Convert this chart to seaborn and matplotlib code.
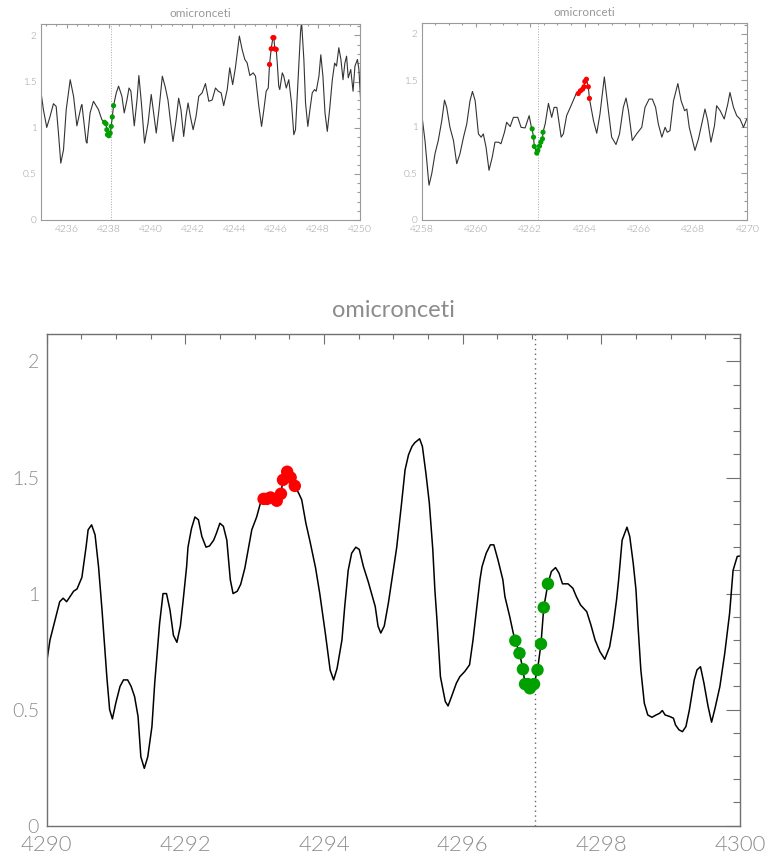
import matplotlib
matplotlib.use("Agg")
import matplotlib.pyplot as plt
import seaborn as sns
import pandas as pd
from matplotlib import font_manager
from matplotlib.ticker import MultipleLocator

star = "omicronceti"

# ---- window 1: 4234.75 - 4250 A ----
w1_wave = [4234.77, 4234.88, 4235.04, 4235.20, 4235.36, 4235.49, 4235.60, 4235.71, 4235.84, 4235.97,
           4236.16, 4236.32, 4236.48, 4236.68, 4236.72, 4236.92, 4236.96, 4237.11, 4237.27, 4237.51,
           4237.67, 4237.80, 4237.87, 4237.91, 4237.94, 4238.01, 4238.07, 4238.12, 4238.17, 4238.23,
           4238.36, 4238.47, 4238.63, 4238.74, 4238.87, 4238.97, 4239.06, 4239.22, 4239.35, 4239.44,
           4239.56, 4239.71, 4239.88, 4240.03, 4240.27, 4240.40, 4240.56, 4240.70, 4240.83, 4240.94,
           4241.07, 4241.22, 4241.34, 4241.45, 4241.58, 4241.69, 4241.79, 4241.90, 4242.03, 4242.17,
           4242.30, 4242.46, 4242.62, 4242.78, 4242.94, 4243.10, 4243.23, 4243.37, 4243.49, 4243.66,
           4243.78, 4243.92, 4244.05, 4244.24, 4244.37, 4244.50, 4244.61, 4244.74, 4244.90, 4245.01,
           4245.17, 4245.30, 4245.41, 4245.52, 4245.62, 4245.68, 4245.76, 4245.84, 4245.89, 4245.93,
           4246.00, 4246.05, 4246.12, 4246.17, 4246.29, 4246.36, 4246.48, 4246.60, 4246.73, 4246.84,
           4246.92, 4247.05, 4247.16, 4247.21, 4247.32, 4247.40, 4247.51, 4247.61, 4247.72, 4247.83,
           4247.91, 4248.04, 4248.13, 4248.23, 4248.33, 4248.44, 4248.55, 4248.68, 4248.79, 4248.88,
           4248.99, 4249.09, 4249.19, 4249.28, 4249.36, 4249.44, 4249.56, 4249.67, 4249.76, 4249.88,
           4249.95, 4250.03]
w1_flux = [1.377, 1.196, 1.003, 1.123, 1.260, 1.230, 0.940, 0.616, 0.760, 1.196,
           1.520, 1.340, 1.020, 1.230, 1.250, 0.850, 0.833, 1.160, 1.286, 1.196,
           1.087, 1.058, 1.043, 0.978, 0.924, 0.913, 0.942, 1.014, 1.116, 1.239,
           1.377, 1.450, 1.340, 1.160, 1.300, 1.430, 1.395, 1.020, 1.300, 1.565,
           1.268, 0.833, 1.050, 1.360, 0.942, 1.196, 1.558, 1.440, 1.300, 1.087,
           0.850, 1.087, 1.320, 1.196, 0.905, 1.123, 1.268, 1.123, 0.978, 1.123,
           1.340, 1.377, 1.478, 1.286, 1.300, 1.430, 1.395, 1.377, 1.239, 1.413,
           1.649, 1.467, 1.649, 1.993, 1.848, 1.739, 1.703, 1.565, 1.594, 1.558,
           1.230, 1.014, 1.196, 1.395, 1.430, 1.685, 1.855, 1.975, 1.975, 1.855,
           1.848, 1.700, 1.450, 1.413, 1.594, 1.558, 1.430, 1.520, 1.268, 0.924,
           0.978, 1.558, 2.030, 2.150, 1.739, 1.268, 1.014, 1.196, 1.377, 1.413,
           1.395, 1.558, 1.790, 1.558, 1.160, 0.960, 1.196, 1.520, 1.700, 1.667,
           1.866, 1.739, 1.520, 1.700, 1.775, 1.540, 1.630, 1.395, 1.667, 1.739,
           1.630, 1.300]
w1_blue_wave = [4237.80, 4237.87, 4237.91, 4237.94, 4238.01, 4238.07, 4238.12, 4238.17, 4238.23]
w1_blue_flux = [1.058, 1.043, 0.978, 0.924, 0.913, 0.942, 1.014, 1.116, 1.239]
w1_red_wave = [4245.68, 4245.76, 4245.84, 4245.89, 4245.93, 4246.00]
w1_red_flux = [1.685, 1.855, 1.975, 1.975, 1.855, 1.848]
w1_line = 4238.12

# ---- window 2: 4258 - 4270 A ----
w2_wave = [4258.00, 4258.12, 4258.25, 4258.27, 4258.37, 4258.49, 4258.61, 4258.74, 4258.84, 4258.92,
           4259.04, 4259.17, 4259.29, 4259.41, 4259.54, 4259.66, 4259.78, 4259.87, 4259.97, 4260.09,
           4260.19, 4260.27, 4260.37, 4260.48, 4260.60, 4260.70, 4260.83, 4260.92, 4261.05, 4261.13,
           4261.26, 4261.38, 4261.54, 4261.66, 4261.81, 4261.96, 4262.03, 4262.07, 4262.12, 4262.15,
           4262.24, 4262.28, 4262.34, 4262.39, 4262.45, 4262.47, 4262.55, 4262.67, 4262.79, 4262.88,
           4262.98, 4263.14, 4263.22, 4263.34, 4263.53, 4263.71, 4263.77, 4263.85, 4263.93, 4263.98,
           4264.01, 4264.07, 4264.14, 4264.18, 4264.33, 4264.45, 4264.57, 4264.73, 4264.88, 4265.00,
           4265.16, 4265.29, 4265.43, 4265.53, 4265.62, 4265.76, 4265.92, 4266.11, 4266.23, 4266.38,
           4266.50, 4266.62, 4266.72, 4266.85, 4266.97, 4267.05, 4267.15, 4267.28, 4267.44, 4267.56,
           4267.69, 4267.77, 4267.86, 4267.98, 4268.07, 4268.20, 4268.32, 4268.44, 4268.54, 4268.66,
           4268.79, 4268.87, 4269.00, 4269.15, 4269.28, 4269.36, 4269.49, 4269.61, 4269.73, 4269.86,
           4269.98]
w2_flux = [1.139, 0.854, 0.427, 0.374, 0.498, 0.712, 0.854, 1.068, 1.288, 1.210,
           0.996, 0.854, 0.605, 0.712, 0.890, 1.032, 1.281, 1.381, 1.281, 0.925,
           0.890, 0.925, 0.783, 0.534, 0.676, 0.836, 0.836, 0.819, 0.943, 1.050,
           1.004, 1.103, 1.103, 0.996, 0.989, 1.121, 1.014, 0.979, 0.890, 0.790,
           0.719, 0.747, 0.794, 0.836, 0.872, 0.943, 1.032, 1.253, 1.103, 1.210,
           1.210, 0.890, 0.925, 1.121, 1.246, 1.370, 1.359, 1.388, 1.406, 1.431,
           1.488, 1.512, 1.431, 1.306, 1.068, 0.932, 1.139, 1.537, 1.174, 0.890,
           0.811, 0.925, 1.210, 1.310, 1.174, 0.854, 0.925, 0.996, 1.210, 1.299,
           1.299, 1.210, 1.032, 0.890, 0.996, 0.943, 0.960, 1.281, 1.466, 1.281,
           1.174, 1.192, 0.996, 0.854, 0.747, 0.872, 1.032, 1.192, 1.068, 0.836,
           1.014, 1.228, 1.174, 1.085, 1.246, 1.370, 1.210, 1.121, 1.085, 0.996,
           1.085]
w2_blue_wave = [4262.07, 4262.12, 4262.15, 4262.24, 4262.28, 4262.34, 4262.39, 4262.45, 4262.47]
w2_blue_flux = [0.979, 0.890, 0.790, 0.719, 0.747, 0.794, 0.836, 0.872, 0.943]
w2_red_wave = [4263.77, 4263.85, 4263.93, 4263.98, 4264.01, 4264.07, 4264.14, 4264.18]
w2_red_flux = [1.359, 1.388, 1.406, 1.431, 1.488, 1.512, 1.431, 1.306]
w2_line = 4262.28

# ---- window 3: 4290 - 4300 A ----
w3_wave = [4290.00, 4290.05, 4290.19, 4290.24, 4290.29, 4290.39, 4290.44, 4290.51, 4290.57, 4290.60,
           4290.65, 4290.70, 4290.75, 4290.80, 4290.87, 4290.91, 4290.95, 4291.00, 4291.06, 4291.11,
           4291.17, 4291.22, 4291.27, 4291.32, 4291.36, 4291.41, 4291.46, 4291.52, 4291.56, 4291.63,
           4291.68, 4291.73, 4291.78, 4291.83, 4291.88, 4291.93, 4291.97, 4292.02, 4292.04, 4292.09,
           4292.14, 4292.19, 4292.24, 4292.30, 4292.35, 4292.41, 4292.45, 4292.50, 4292.55, 4292.60,
           4292.65, 4292.69, 4292.75, 4292.80, 4292.86, 4292.96, 4293.03, 4293.10, 4293.13, 4293.18,
           4293.23, 4293.32, 4293.38, 4293.41, 4293.47, 4293.52, 4293.58, 4293.64, 4293.68, 4293.74,
           4293.80, 4293.88, 4293.94, 4294.02, 4294.09, 4294.14, 4294.19, 4294.26, 4294.30, 4294.35,
           4294.40, 4294.46, 4294.51, 4294.57, 4294.64, 4294.74, 4294.78, 4294.82, 4294.87, 4294.93,
           4294.98, 4295.05, 4295.12, 4295.17, 4295.22, 4295.27, 4295.31, 4295.38, 4295.42, 4295.47,
           4295.52, 4295.57, 4295.60, 4295.63, 4295.68, 4295.75, 4295.79, 4295.84, 4295.91, 4295.96,
           4296.03, 4296.10, 4296.15, 4296.20, 4296.25, 4296.28, 4296.34, 4296.40, 4296.45, 4296.51,
           4296.58, 4296.61, 4296.68, 4296.73, 4296.76, 4296.82, 4296.87, 4296.90, 4296.94, 4296.97,
           4297.03, 4297.08, 4297.13, 4297.17, 4297.23, 4297.28, 4297.34, 4297.39, 4297.44, 4297.52,
           4297.59, 4297.64, 4297.70, 4297.79, 4297.85, 4297.91, 4297.98, 4298.05, 4298.12, 4298.17,
           4298.22, 4298.25, 4298.30, 4298.37, 4298.41, 4298.46, 4298.50, 4298.53, 4298.57, 4298.62,
           4298.67, 4298.73, 4298.79, 4298.84, 4298.88, 4298.92, 4298.99, 4299.04, 4299.07, 4299.12,
           4299.17, 4299.22, 4299.27, 4299.34, 4299.38, 4299.43, 4299.48, 4299.54, 4299.59, 4299.64,
           4299.71, 4299.78, 4299.85, 4299.90, 4299.96, 4300.00]
w3_flux = [0.700, 0.800, 0.965, 0.980, 0.965, 1.010, 1.020, 1.070, 1.200, 1.275,
           1.296, 1.253, 1.116, 0.930, 0.640, 0.500, 0.460, 0.530, 0.600, 0.628,
           0.628, 0.600, 0.556, 0.470, 0.297, 0.247, 0.297, 0.427, 0.614, 0.870,
           1.000, 1.000, 0.930, 0.820, 0.790, 0.860, 0.970, 1.116, 1.200, 1.280,
           1.330, 1.318, 1.246, 1.200, 1.205, 1.230, 1.260, 1.303, 1.290, 1.230,
           1.060, 1.000, 1.010, 1.040, 1.110, 1.275, 1.330, 1.407, 1.408, 1.408,
           1.414, 1.400, 1.430, 1.490, 1.525, 1.500, 1.464, 1.430, 1.404, 1.303,
           1.224, 1.110, 1.000, 0.830, 0.670, 0.628, 0.678, 0.800, 0.944, 1.100,
           1.174, 1.200, 1.190, 1.116, 1.050, 0.944, 0.860, 0.830, 0.860, 0.960,
           1.060, 1.200, 1.390, 1.533, 1.598, 1.634, 1.650, 1.667, 1.634, 1.520,
           1.390, 1.190, 1.016, 0.887, 0.642, 0.535, 0.516, 0.556, 0.614, 0.642,
           0.664, 0.693, 0.800, 0.930, 1.060, 1.116, 1.174, 1.210, 1.210, 1.145,
           1.060, 0.987, 0.900, 0.830, 0.797, 0.743, 0.674, 0.610, 0.610, 0.592,
           0.610, 0.671, 0.783, 0.940, 1.042, 1.095, 1.112, 1.088, 1.042, 1.042,
           1.023, 0.987, 0.951, 0.922, 0.865, 0.800, 0.750, 0.717, 0.771, 0.858,
           0.973, 1.060, 1.230, 1.286, 1.246, 1.131, 1.016, 0.858, 0.671, 0.528,
           0.477, 0.467, 0.477, 0.484, 0.496, 0.477, 0.470, 0.463, 0.434, 0.413,
           0.405, 0.427, 0.499, 0.628, 0.671, 0.685, 0.614, 0.513, 0.446, 0.506,
           0.600, 0.743, 0.915, 1.100, 1.160, 1.162]
w3_blue_wave = [4296.76, 4296.82, 4296.87, 4296.90, 4296.94, 4296.97, 4297.03, 4297.08, 4297.13, 4297.17, 4297.23]
w3_blue_flux = [0.797, 0.743, 0.674, 0.610, 0.610, 0.592, 0.610, 0.671, 0.783, 0.940, 1.042]
w3_red_wave = [4293.13, 4293.18, 4293.23, 4293.32, 4293.38, 4293.41, 4293.47, 4293.52, 4293.58]
w3_red_flux = [1.408, 1.408, 1.414, 1.400, 1.430, 1.490, 1.525, 1.500, 1.464]
w3_line = 4297.05

GREEN = "#00a000"
RED = "#ff0000"


def _weight(entry):
    w = entry.weight
    if isinstance(w, str):
        w = font_manager.weight_dict.get(w, 400)
    return int(w)


# prefer a thin face for the axis texts when one is installed
TEXT_FAMILY, TEXT_WEIGHT = "DejaVu Sans", "normal"
for fam in ["Lato", "Roboto", "Open Sans", "Inter", "Noto Sans", "DejaVu Sans"]:
    thin = [e for e in font_manager.fontManager.ttflist
            if e.name == fam and _weight(e) <= 300 and e.style == "normal"]
    if thin:
        TEXT_FAMILY, TEXT_WEIGHT = fam, max(_weight(e) for e in thin)
        break

sns.set_style("white")
plt.rcParams["font.family"] = [TEXT_FAMILY, "DejaVu Sans"]
plt.rcParams["font.weight"] = TEXT_WEIGHT

fig = plt.figure(figsize=(7.69, 8.59), dpi=100)
ax1 = fig.add_axes([0.0529, 0.7439, 0.4152, 0.2278])
ax2 = fig.add_axes([0.5484, 0.7439, 0.4234, 0.2297])
ax3 = fig.add_axes([0.0605, 0.0388, 0.9018, 0.5728])


def draw(ax, wave, flux, bw, bf, rw, rf, vline, xlim, big):
    spec = pd.DataFrame({"wave": wave, "flux": flux})
    lw = 1.1 if big else 0.8
    sns.lineplot(data=spec, x="wave", y="flux", ax=ax, color="black" if big else "#333333",
                 lw=lw, sort=False, estimator=None, zorder=2)
    ax.axvline(vline, color="#666666" if big else "#aaaaaa", ls=(0, (1, 2.5)) if big else ":",
               lw=1.0 if big else 0.7, zorder=1)
    ms = 80 if big else 14
    sns.scatterplot(x=bw, y=bf, ax=ax, color=GREEN, s=ms, edgecolor="none", zorder=3)
    sns.scatterplot(x=rw, y=rf, ax=ax, color=RED, s=ms, edgecolor="none", zorder=3)
    ax.set_xlim(*xlim)
    ax.set_ylim(0, 2.12)
    ax.set_xlabel("")
    ax.set_ylabel("")
    ax.xaxis.set_major_locator(MultipleLocator(2))
    ax.xaxis.set_minor_locator(MultipleLocator(0.5))
    ax.yaxis.set_major_locator(MultipleLocator(0.5))
    ax.yaxis.set_minor_locator(MultipleLocator(0.1))
    ax.yaxis.set_major_formatter(plt.FuncFormatter(lambda v, p: f"{v:g}"))
    ax.xaxis.set_major_formatter(plt.FuncFormatter(lambda v, p: f"{v:.0f}"))
    spine_c = "#707070" if big else "#9a9a9a"
    label_c = "#8c8c8c" if big else "#999999"
    for s in ax.spines.values():
        s.set_color(spine_c)
        s.set_linewidth(1.0 if big else 0.8)
    if big:
        xfs, yfs, xmaj, xmin, ymaj, ymin, xpad, ypad, tfs = 16, 14, 7, 3.6, 10, 5, 7, 5.5, 17
    else:
        xfs, yfs, xmaj, xmin, ymaj, ymin, xpad, ypad, tfs = 7.5, 7, 3, 1.6, 4.6, 2.3, 3.5, 3, 8.5
    ax.tick_params(which="both", direction="in", top=True, right=True, color=spine_c,
                   labelcolor=label_c, width=0.8)
    ax.tick_params(axis="x", which="major", length=xmaj, pad=xpad, labelsize=xfs)
    ax.tick_params(axis="x", which="minor", length=xmin)
    ax.tick_params(axis="y", which="major", length=ymaj, pad=ypad, labelsize=yfs)
    ax.tick_params(axis="y", which="minor", length=ymin)
    ax.set_title(star, color=label_c, fontsize=tfs, pad=12 if big else 5)


draw(ax1, w1_wave, w1_flux, w1_blue_wave, w1_blue_flux, w1_red_wave, w1_red_flux,
     w1_line, (4234.75, 4250.0), False)
draw(ax2, w2_wave, w2_flux, w2_blue_wave, w2_blue_flux, w2_red_wave, w2_red_flux,
     w2_line, (4258.0, 4270.0), False)
draw(ax3, w3_wave, w3_flux, w3_blue_wave, w3_blue_flux, w3_red_wave, w3_red_flux,
     w3_line, (4290.0, 4300.0), True)

fig.savefig("out.png", dpi=100, facecolor="white")
